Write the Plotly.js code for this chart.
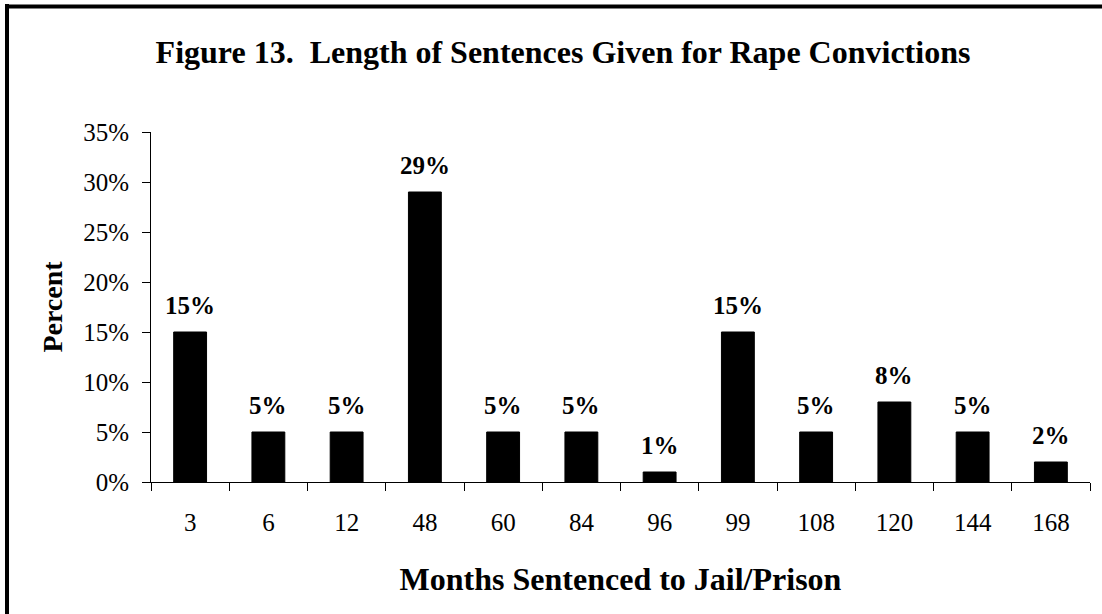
<!DOCTYPE html>
<html>
<head>
<meta charset="utf-8">
<script src="https://cdn.plot.ly/plotly-3.0.1.min.js"></script>
<style>html,body{margin:0;padding:0;background:#fff;}#chart{width:1102px;height:614px;}</style>
</head>
<body>
<div id="chart"></div>
<script>
const categories = ["3","6","12","48","60","84","96","99","108","120","144","168"];
const percentValues = [15,5,5,29,5,5,1,15,5,8,5,2];
const valueLabels = ["15%","5%","5%","29%","5%","5%","1%","15%","5%","8%","5%","2%"];
const yTickValues = [0,5,10,15,20,25,30,35];
const yTickLabels = ["0%","5%","10%","15%","20%","25%","30%","35%"];

const FONT = "'Liberation Serif', 'Times New Roman', serif";

const trace = {
  type: 'bar',
  x: categories,
  y: percentValues,
  marker: {color: '#000000', line: {color: '#000000', width: 1}},
  hoverinfo: 'none'
};

// annotations positioned by category index (numeric strings would be read as indices)
const annotations = categories.map((c, i) => ({
  x: i, y: percentValues[i], xref: 'x', yref: 'y',
  text: '<b>' + valueLabels[i] + '</b>',
  showarrow: false, yanchor: 'middle', yshift: 27,
  font: {family: FONT, size: 25, color: '#000'}
}));

const W = 1102, H = 614, ml = 151, mr = 12, mt = 132, mb = 132;
const pw = W - ml - mr, ph = H - mt - mb;
function px(x){ return (x - ml) / pw; }
function py(y){ return (H - mb - y) / ph; }

const layout = {
  width: W, height: H,
  margin: {l: ml, r: mr, t: mt, b: mb, pad: 0},
  paper_bgcolor: '#fff', plot_bgcolor: '#fff',
  showlegend: false,
  bargap: 0.58,
  font: {family: FONT, color: '#000'},
  title: {
    text: '<b>Figure 13.  Length of Sentences Given for Rape Convictions</b>',
    font: {family: FONT, size: 32, color: '#000'},
    x: 563 / W, xref: 'container', xanchor: 'center',
    y: 1 - 52 / H, yref: 'container', yanchor: 'middle'
  },
  xaxis: {
    type: 'category',
    range: [-0.5, categories.length - 0.5],
    tickson: 'boundaries',
    tickangle: 0,
    ticks: 'outside', ticklen: 8, tickcolor: '#000', tickwidth: 1,
    showline: true, linecolor: '#000', linewidth: 1,
    showgrid: false, zeroline: false,
    tickfont: {family: FONT, size: 25, color: '#000'},
    ticklabelstandoff: 18,
    title: {text: '<b>Months Sentenced to Jail/Prison</b>', font: {family: FONT, size: 32, color: '#000'}, standoff: 32}
  },
  yaxis: {
    range: [0, 35],
    tickvals: yTickValues, ticktext: yTickLabels,
    ticks: 'outside', ticklen: 8, tickcolor: '#000', tickwidth: 1,
    showline: true, linecolor: '#000', linewidth: 1,
    showgrid: false, zeroline: false,
    tickfont: {family: FONT, size: 25, color: '#000'},
    ticklabelstandoff: 8,
    title: {text: '<b>Percent</b>', font: {family: FONT, size: 28, color: '#000'}, standoff: 12}
  },
  annotations: annotations,
  shapes: [
    {type: 'line', xref: 'paper', yref: 'paper', x0: px(7), x1: px(7), y0: py(4), y1: py(H + 5), line: {color: '#000', width: 4}},
    {type: 'line', xref: 'paper', yref: 'paper', x0: px(5), x1: px(W + 5), y0: py(6.5), y1: py(6.5), line: {color: '#000', width: 4}}
  ]
};

Plotly.newPlot('chart', [trace], layout, {displayModeBar: false, staticPlot: true});
</script>
</body>
</html>
